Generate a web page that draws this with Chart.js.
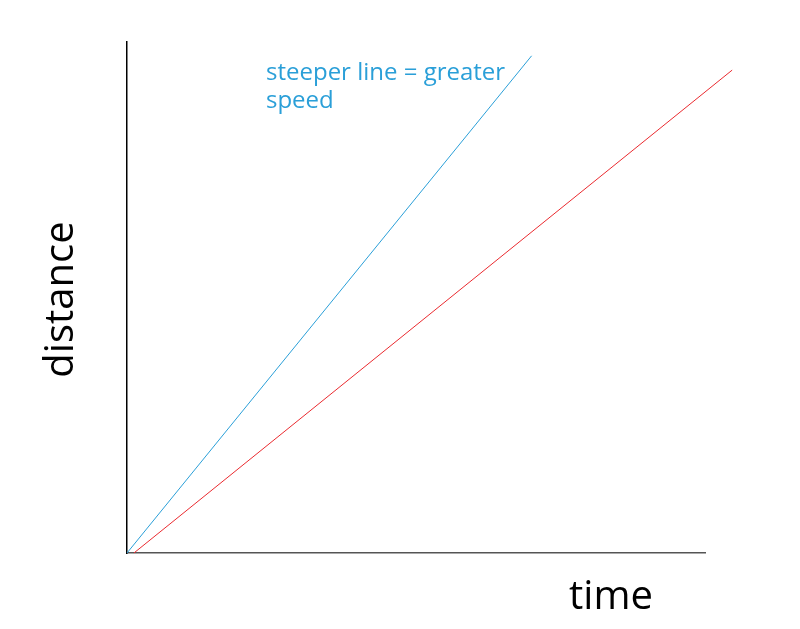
<!DOCTYPE html>
<html>
<head>
<meta charset="utf-8">
<script src="https://cdn.jsdelivr.net/npm/chart.js@4"></script>
<style>
  html, body { margin: 0; padding: 0; background: #fff; }
  #wrap { width: 800px; height: 629px; position: relative; }
</style>
</head>
<body>
<div id="wrap"><canvas id="speedChart"></canvas></div>
<script>
// data (arbitrary units)
const timeBlue = [0, 7.0];
const distBlue = [0, 9.73];
const timeRed = [0.12, 10.47];
const distRed = [0, 9.45];

const axisMax = 10;
const noteLines = ['steeper line = greater', 'speed'];
const xTitle = 'time';
const yTitle = 'distance';

const BLUE = '#2a9fd8';
const RED = '#ea2a2f';
const FONT = '"Open Sans", "DejaVu Sans", sans-serif';

const toPoints = (xs, ys) => xs.map((x, i) => ({ x, y: ys[i] }));

// labels drawn straight on the canvas, placed from the chart area
const labelPlugin = {
    id: 'labels',
    afterDraw(chart) {
        const { ctx, chartArea: a } = chart;
        ctx.save();
        ctx.textBaseline = 'alphabetic';

        // blue note near the steep line
        ctx.fillStyle = BLUE;
        ctx.font = `24px ${FONT}`;
        ctx.textAlign = 'left';
        noteLines.forEach((t, i) => ctx.fillText(t, a.left + 139, a.top + 38 + i * 28));

        // x title
        ctx.fillStyle = '#000';
        ctx.font = `40px ${FONT}`;
        ctx.textAlign = 'center';
        ctx.fillText(xTitle, a.right - 94, a.bottom + 56);

        // y title, rotated
        ctx.translate(a.left - 54, (a.top + a.bottom) / 2 + 2);
        ctx.rotate(-Math.PI / 2);
        ctx.fillText(yTitle, 0, 0);
        ctx.restore();
    }
};

new Chart(document.getElementById('speedChart'), {
    type: 'line',
    data: {
        datasets: [
            {
                data: toPoints(timeBlue, distBlue),
                borderColor: BLUE,
                borderWidth: 1,
                pointRadius: 0,
                clip: false
            },
            {
                data: toPoints(timeRed, distRed),
                borderColor: RED,
                borderWidth: 1,
                pointRadius: 0,
                clip: false
            }
        ]
    },
    options: {
        responsive: true,
        maintainAspectRatio: false,
        animation: false,
        layout: {
            padding: { left: 127, right: 95, top: 42, bottom: 76 }
        },
        plugins: {
            legend: { display: false },
            tooltip: { enabled: false }
        },
        scales: {
            x: {
                type: 'linear',
                min: 0,
                max: axisMax,
                grid: { display: false, drawTicks: false },
                ticks: { display: false },
                border: { color: '#555', width: 1.5 }
            },
            y: {
                type: 'linear',
                min: 0,
                max: axisMax,
                grid: { display: false, drawTicks: false },
                ticks: { display: false },
                border: { color: '#000', width: 1.5 }
            }
        }
    },
    plugins: [labelPlugin]
});
</script>
</body>
</html>
